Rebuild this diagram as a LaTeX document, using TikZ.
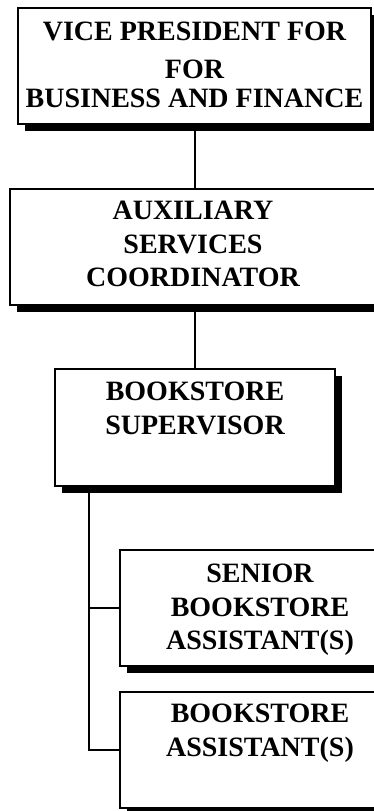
\documentclass[tikz,border=0pt]{standalone}
\usepackage{fontspec}
\setmainfont{Liberation Serif}
\usetikzlibrary{positioning,shadows}

\tikzset{
  post/.style={draw, line width=2pt, fill=white, minimum width=#1,
    minimum height=116pt, inner sep=0pt,
    drop shadow={shadow xshift=6.5pt, shadow yshift=-6.5pt, fill=black, opacity=1}},
  post/.default=280pt,
  title/.style={align=center, font=\fontsize{28}{33.6}\selectfont\bfseries,
    inner sep=0pt},
  link/.style={line width=2pt}
}

\begin{document}
\begin{tikzpicture}
    \useasboundingbox (0pt,0pt) rectangle (373pt,-811pt);

    % Draw the boxes of the chart
    \node[post=353pt] (vp) at (194.5pt,-66pt) {};
    \node[post=366pt] (aux) at (193pt,-247pt) {};
    \node[post, minimum height=117pt] (sup) at (195pt,-427.5pt) {};
    \node[post] (sen) at (260pt,-608pt) {};
    \node[post] (asst) at (260pt,-750pt) {};

    % Write the titles near the top of each box
    \node[title, below=15pt of vp.north] (vp text)
        {VICE PRESIDENT FOR\\[4pt] FOR\\[-4pt] BUSINESS AND FINANCE};
    \node[title, below=13pt of aux.north] (aux text)
        {AUXILIARY\\ SERVICES\\ COORDINATOR};
    \node[title, below=14pt of sup.north] (sup text)
        {BOOKSTORE\\ SUPERVISOR};
    \node[title, below=15pt of sen.north] (sen text)
        {SENIOR\\ BOOKSTORE\\ ASSISTANT(S)};
    \node[title, below=13pt of asst.north] (asst text)
        {BOOKSTORE\\ ASSISTANT(S)};

    % Draw the lines between the boxes
    \draw[link] (vp.south) -- (vp.south |- aux.north);
    \draw[link] (aux.south -| sup.north) -- (sup.north);
    \coordinate (trunk) at ([xshift=35pt]sup.south west);
    \draw[link] (trunk) |- (sen.west);
    \draw[link] (trunk) |- (asst.west);
\end{tikzpicture}
\end{document}
